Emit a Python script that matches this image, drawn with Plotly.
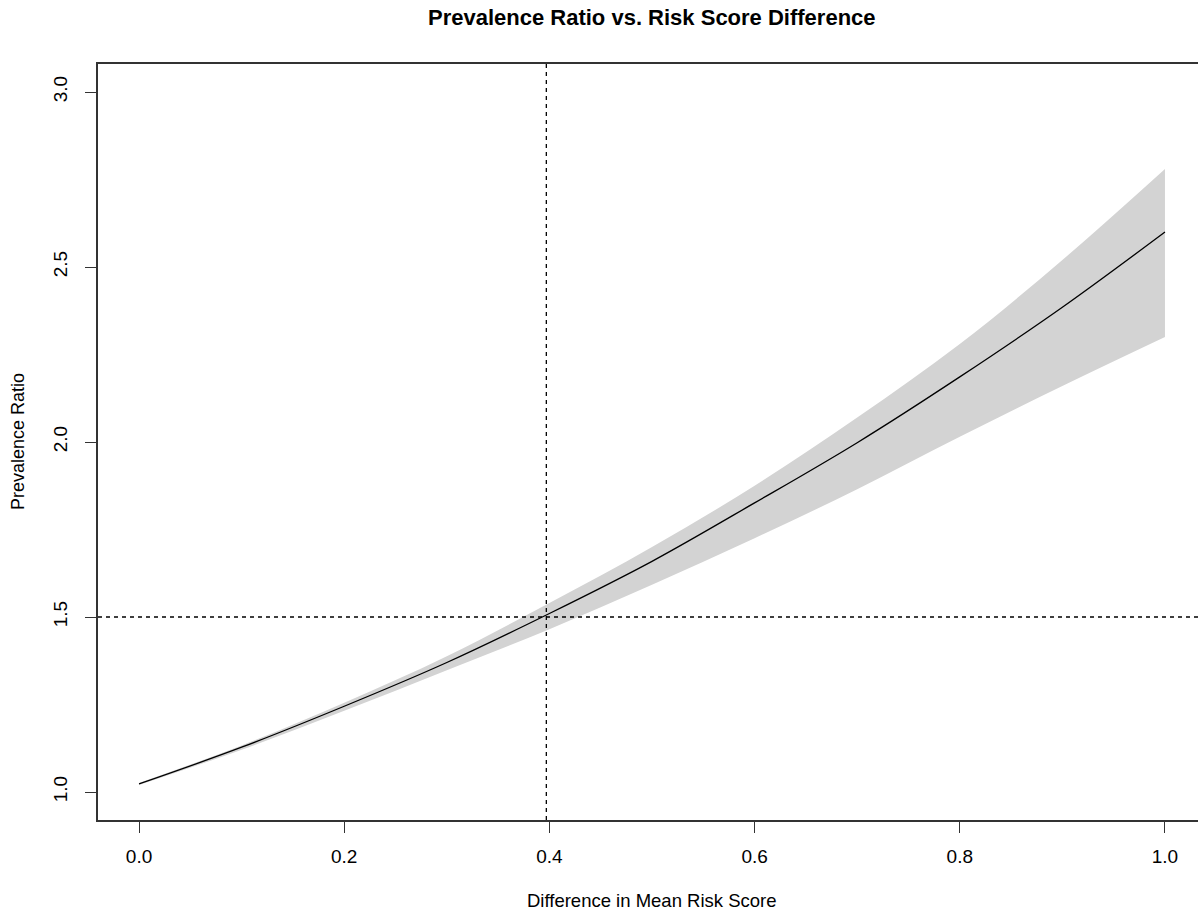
import plotly.graph_objects as go

# Data
diff_x = [0.0, 0.1, 0.2, 0.3, 0.4, 0.5, 0.6, 0.7, 0.8, 0.9, 1.0]
prev_ratio = [1.023, 1.128, 1.245, 1.370, 1.510, 1.659, 1.826, 1.998, 2.186, 2.385, 2.600]
upper_ci = [1.026, 1.133, 1.255, 1.388, 1.540, 1.700, 1.875, 2.070, 2.280, 2.520, 2.780]
lower_ci = [1.020, 1.121, 1.232, 1.348, 1.465, 1.592, 1.725, 1.865, 2.015, 2.160, 2.300]
ref_x = 0.397
ref_y = 1.5
x_ticks = [0.0, 0.2, 0.4, 0.6, 0.8, 1.0]
x_tick_text = ["0.0", "0.2", "0.4", "0.6", "0.8", "1.0"]
y_ticks = [1.0, 1.5, 2.0, 2.5, 3.0]
y_tick_text = ["1.0", "1.5", "2.0", "2.5", "3.0"]

FONT = "Liberation Sans, Arial, Helvetica, sans-serif"

fig = go.Figure()
fig.add_trace(go.Scatter(
    x=diff_x, y=lower_ci, mode="lines",
    line=dict(width=0, color="#d3d3d3", shape="spline"),
    hoverinfo="skip", showlegend=False))
fig.add_trace(go.Scatter(
    x=diff_x, y=upper_ci, mode="lines", fill="tonexty", fillcolor="#d3d3d3",
    line=dict(width=0, color="#d3d3d3", shape="spline"),
    hoverinfo="skip", showlegend=False))
fig.add_trace(go.Scatter(
    x=diff_x, y=prev_ratio, mode="lines",
    line=dict(color="black", width=1.3, shape="spline"), showlegend=False))

fig.add_shape(type="line", xref="x", yref="paper", x0=ref_x, x1=ref_x, y0=0, y1=1,
              line=dict(color="black", width=1.3, dash="4px,4px"))
fig.add_shape(type="line", xref="paper", yref="y", x0=0, x1=1, y0=ref_y, y1=ref_y,
              line=dict(color="black", width=1.3, dash="4px,4px"))

fig.update_layout(
    width=1198, height=913,
    margin=dict(l=98, r=0, t=64, b=93, autoexpand=False),
    paper_bgcolor="white", plot_bgcolor="white",
    font=dict(family=FONT, color="black", size=19),
    showlegend=False,
    xaxis=dict(range=[-0.04, 1.0322], tickvals=x_ticks, ticktext=x_tick_text,
               showgrid=False, zeroline=False, showline=True, mirror=True,
               linecolor="#333333", linewidth=1.5, ticks="outside", ticklen=11,
               tickwidth=1.3, tickcolor="#333333", tickfont=dict(size=19),
               ticklabelstandoff=7),
    yaxis=dict(range=[0.92, 3.08], tickvals=y_ticks, ticktext=y_tick_text,
               showgrid=False, zeroline=False, showline=True, mirror=False,
               linecolor="#333333", linewidth=1.5, ticks="outside", ticklen=11,
               tickwidth=1.3, tickcolor="#333333", tickfont=dict(size=19),
               tickangle=-90, ticklabelstandoff=11),
    annotations=[
        dict(text="<b>Prevalence Ratio vs. Risk Score Difference</b>",
             x=0.5036, y=1.0 + (64 - 18) / 756.0, xref="paper", yref="paper",
             showarrow=False, yanchor="middle", font=dict(size=22)),
        dict(text="Difference in Mean Risk Score", x=0.5036, y=-(900 - 820) / 756.0,
             xref="paper", yref="paper", showarrow=False, yanchor="middle",
             font=dict(size=18.5)),
        dict(text="Prevalence Ratio", x=-(98 - 18) / 1100.0, y=0.5, textangle=-90,
             xref="paper", yref="paper", showarrow=False, xanchor="center",
             font=dict(size=18)),
    ],
)

fig.write_html(
    "out.html",
    config={"displayModeBar": False},
    post_script="document.body.style.margin='0';document.body.style.overflow='hidden';",
)
